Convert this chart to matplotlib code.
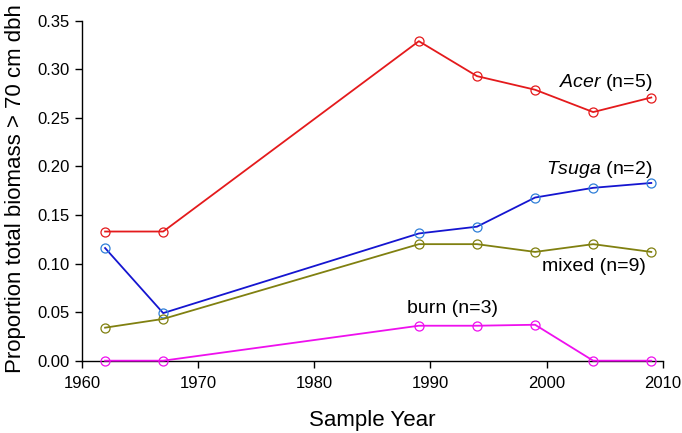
import matplotlib.pyplot as plt

plt.rcParams['font.family'] = ['Liberation Sans', 'DejaVu Sans']
plt.rcParams['mathtext.fontset'] = 'custom'
plt.rcParams['mathtext.it'] = 'Liberation Sans:italic'
plt.rcParams['mathtext.rm'] = 'Liberation Sans'

years = [1962, 1967, 1989, 1994, 1999, 2004, 2009]
acer = [0.133, 0.133, 0.329, 0.293, 0.279, 0.256, 0.271]
tsuga = [0.116, 0.049, 0.131, 0.138, 0.168, 0.178, 0.183]
mixed = [0.034, 0.043, 0.120, 0.120, 0.112, 0.120, 0.112]
burn = [0.0, 0.0, 0.036, 0.036, 0.037, 0.0, 0.0]

fig = plt.figure(figsize=(6.82, 4.33), dpi=100)
ax = fig.add_axes([0.120, 0.167, 0.852, 0.785])

ax.plot(years, acer, color='#e41a1c', lw=1.3, marker='o', ms=6.5, mfc='none', mec='#e41a1c', mew=0.9, clip_on=False)
ax.plot(years, tsuga, color='#1515d0', lw=1.3, marker='o', ms=6.5, mfc='none', mec='#2f7fd8', mew=0.9, clip_on=False)
ax.plot(years, mixed, color='#808010', lw=1.3, marker='o', ms=6.5, mfc='none', mec='#808010', mew=0.9, clip_on=False)
ax.plot(years, burn, color='#ee10ee', lw=1.3, marker='o', ms=6.5, mfc='none', mec='#ee10ee', mew=0.9, clip_on=False, zorder=3)

# labels
ax.text(2009.1, 0.286, r'$\it{Acer}$ (n=5)', ha='right', va='center', fontsize=14)
ax.text(2009.1, 0.197, r'$\it{Tsuga}$ (n=2)', ha='right', va='center', fontsize=14)
ax.text(2008.5, 0.0975, 'mixed (n=9)', ha='right', va='center', fontsize=14)
ax.text(1988.0, 0.054, 'burn (n=3)', ha='left', va='center', fontsize=14)

ax.set_xlim(1960, 2010)
ax.set_ylim(0, 0.35)
ax.set_xticks([1960, 1970, 1980, 1990, 2000, 2010])
ax.set_yticks([0, 0.05, 0.10, 0.15, 0.20, 0.25, 0.30, 0.35])
ax.set_yticklabels(['0.00', '0.05', '0.10', '0.15', '0.20', '0.25', '0.30', '0.35'])
ax.tick_params(direction='out', length=5, width=1, labelsize=12)
ax.tick_params(axis='x', pad=6)
ax.tick_params(axis='y', pad=4)

for s in ['top', 'right']:
    ax.spines[s].set_visible(False)
for s in ['left', 'bottom']:
    ax.spines[s].set_linewidth(1)

ax.set_xlabel('Sample Year', fontsize=16)
ax.set_ylabel('Proportion total biomass > 70 cm dbh', fontsize=16)
ax.xaxis.set_label_coords(0.5, -0.144)
ax.yaxis.set_label_coords(-0.0964, 0.506)

plt.savefig('out.png', dpi=100)
